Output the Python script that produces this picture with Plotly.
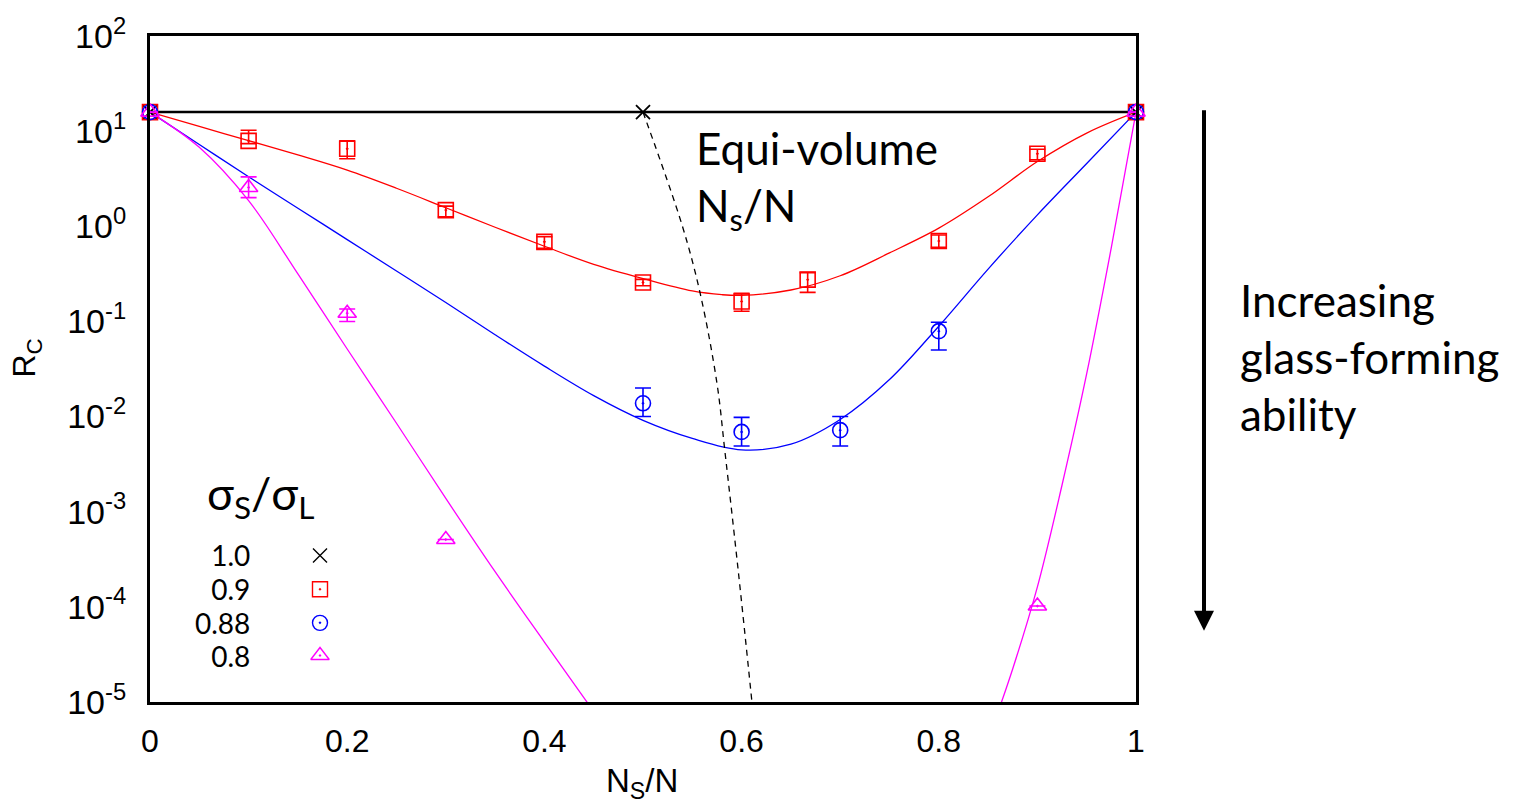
import plotly.graph_objects as go

# ---------------- data ----------------
X_TICKS = [0, 0.2, 0.4, 0.6, 0.8, 1]
X_TICK_LABELS = ["0", "0.2", "0.4", "0.6", "0.8", "1"]
Y_TICKS = [1e-5, 1e-4, 1e-3, 1e-2, 1e-1, 1e0, 1e1, 1e2]
Y_TICK_LABELS = ["10<sup>-5</sup>", "10<sup>-4</sup>", "10<sup>-3</sup>", "10<sup>-2</sup>",
                 "10<sup>-1</sup>", "10<sup>0</sup>", "10<sup>1</sup>", "10<sup>2</sup>"]

LEGEND_LABELS = ["1.0", "0.9", "0.88", "0.8"]

# sigma_S/sigma_L = 1.0
x_10 = [0, 0.5, 1.0]
rc_10 = [15.85, 15.85, 15.85]

# sigma_S/sigma_L = 0.9
x_09 = [0, 0.1, 0.2, 0.3, 0.4, 0.5, 0.6, 0.667, 0.8, 0.9, 1.0]
rc_09 = [15.85, 7.9, 6.52, 1.48, 0.686, 0.257, 0.162, 0.275, 0.70, 5.78, 15.85]
rc_09_up = [0, 2.3, 1.4, 0.15, 0.09, 0.02, 0.035, 0.051, 0.11, 0.67, 0]
rc_09_dn = [0, 0.5, 1.39, 0.22, 0.10, 0.02, 0.034, 0.073, 0.10, 0.78, 0]
fit_x_09 = [0, 0.05, 0.1, 0.15, 0.2, 0.25, 0.3, 0.35, 0.4, 0.45, 0.5, 0.55, 0.58, 0.6, 0.65,
            0.7, 0.75, 0.8, 0.85, 0.9, 0.95, 1.0]
fit_rc_09 = [15.85, 11.22, 7.94, 5.62, 3.89, 2.51, 1.567, 0.977, 0.617, 0.398, 0.282, 0.209,
             0.191, 0.188, 0.214, 0.302, 0.525, 0.955, 2.04, 4.79, 9.55, 15.85]

# sigma_S/sigma_L = 0.88
x_088 = [0, 0.5, 0.6, 0.7, 0.8, 1.0]
rc_088 = [15.85, 0.0138, 0.0069, 0.0072, 0.079, 15.85]
rc_088_up = [0, 0.0062, 0.0029, 0.0028, 0.019, 0]
rc_088_dn = [0, 0.0038, 0.0020, 0.0023, 0.029, 0]
fit_x_088 = [0, 0.05, 0.1, 0.15, 0.2, 0.25, 0.3, 0.35, 0.4, 0.45, 0.5, 0.55, 0.6, 0.65, 0.7,
             0.75, 0.8, 0.85, 0.9, 0.95, 1.0]
fit_rc_088 = [15.85, 7.24, 3.31, 1.55, 0.724, 0.339, 0.158, 0.0724, 0.0339, 0.0166, 0.00912,
              0.00589, 0.00447, 0.00513, 0.00933, 0.0245, 0.0891, 0.355, 1.318, 4.57, 15.85]

# sigma_S/sigma_L = 0.8
x_08 = [0, 0.1, 0.2, 0.3, 0.9, 1.0]
rc_08 = [15.85, 2.56, 0.122, 5.1e-4, 1.02e-4, 15.85]
rc_08_up = [0, 0.75, 0.013, 0, 0, 0]
rc_08_dn = [0, 0.56, 0.022, 0, 0, 0]
fit_x_08_left = [0, 0.05, 0.1, 0.15, 0.2, 0.25, 0.3, 0.35, 0.4, 0.45]
fit_rc_08_left = [15.85, 6.76, 1.86, 0.316, 0.0513, 8.51e-3, 1.38e-3, 2.34e-4, 4.27e-5, 7.94e-6]
fit_x_08_right = [0.85, 0.875, 0.9, 0.925, 0.95, 0.975, 1.0]
fit_rc_08_right = [3.98e-6, 2.24e-5, 1.62e-4, 1.91e-3, 0.0282, 0.60, 15.85]

# equi-volume line
eq_x = [0.5, 0.5396, 0.558, 0.575, 0.583, 0.597, 0.6105]
eq_rc = [15.85, 1.03, 0.197, 0.0224, 0.00437, 2.19e-4, 1.0e-5]

# ---------------- layout geometry ----------------
W, H = 1514, 806
L, R, T, B = 150, 1136, 29, 702   # plot area in pixels


def px(xp):
    return (xp - L) / (R - L)


def py(yp):
    return (B - yp) / (B - T)


RED, BLUE, MAG = "#ff0000", "#0000ff", "#ff00ff"
TICKFONT = "Liberation Sans, Arial, sans-serif"
TXTFONT = "Lato, Open Sans, sans-serif"

fig = go.Figure()

# fit curves
for fx, fy, col in [(fit_x_09, fit_rc_09, RED), (fit_x_088, fit_rc_088, BLUE),
                    (fit_x_08_left, fit_rc_08_left, MAG), (fit_x_08_right, fit_rc_08_right, MAG)]:
    fig.add_trace(go.Scatter(x=fx, y=fy, mode="lines",
                             line=dict(color=col, width=1.3, shape="spline", smoothing=1.0),
                             showlegend=False, hoverinfo="skip"))
fig.add_trace(go.Scatter(x=eq_x, y=eq_rc, mode="lines",
                         line=dict(color="black", width=1.3, dash="6px,5px", shape="spline"),
                         showlegend=False, hoverinfo="skip"))
# sigma = 1.0 line
fig.add_trace(go.Scatter(x=x_10, y=rc_10, mode="lines+markers", cliponaxis=False,
                         line=dict(color="black", width=2.5),
                         marker=dict(symbol="x-thin-open", size=14, line=dict(color="black", width=1.8)),
                         showlegend=False))


# data points with error bars
def add_points(x, y, up, dn, color, symbol, size):
    fig.add_trace(go.Scatter(
        x=x, y=y, mode="markers", cliponaxis=False, showlegend=False,
        marker=dict(symbol=symbol, size=size, color=color, line=dict(color=color, width=1.6)),
        error_y=dict(type="data", symmetric=False, array=up, arrayminus=dn,
                     color=color, thickness=1.6, width=8)))


add_points(x_09, rc_09, rc_09_up, rc_09_dn, RED, "square-open-dot", 15)
add_points(x_088, rc_088, rc_088_up, rc_088_dn, BLUE, "circle-open-dot", 15)
add_points(x_08, rc_08, rc_08_up, rc_08_dn, MAG, "triangle-up-open-dot", 16)

# legend key symbols on an invisible overlay axis (fractions of the plot area)
LEG_ROWS = [554, 588, 622, 655]
LEG_KEY_X = px(320)
leg_styles = [("x-thin-open", "black", 14), ("square-open-dot", RED, 15),
              ("circle-open-dot", BLUE, 15), ("triangle-up-open-dot", MAG, 16)]
for row, (sym, col, sz) in zip(LEG_ROWS, leg_styles):
    fig.add_trace(go.Scatter(x=[LEG_KEY_X], y=[py(row)], xaxis="x2", yaxis="y2", mode="markers",
                             cliponaxis=False, showlegend=False, hoverinfo="skip",
                             marker=dict(symbol=sym, size=sz, color=col, line=dict(color=col, width=1.4))))

annotations = []
# legend title and labels (one multi-line block, right aligned)
annotations.append(dict(xref="paper", yref="paper", x=px(205), y=py(494), xanchor="left", yanchor="middle",
                        text="σ<sub>S</sub>/σ<sub>L</sub>", showarrow=False,
                        font=dict(family=TXTFONT, size=45, color="black")))
legend_block = "<br>".join('<span style="font-size:28px">%s</span>' % s for s in LEGEND_LABELS)
annotations.append(dict(xref="paper", yref="paper", x=px(252), y=py(604),
                        xanchor="right", yanchor="middle", align="right",
                        text=legend_block, showarrow=False,
                        font=dict(family=TXTFONT, size=26, color="black")))
# text labels
annotations.append(dict(xref="paper", yref="paper", x=px(694), y=py(142), xanchor="left", yanchor="middle",
                        text="Equi-volume", showarrow=False, font=dict(family=TXTFONT, size=44, color="black")))
annotations.append(dict(xref="paper", yref="paper", x=px(694), y=py(203), xanchor="left", yanchor="middle",
                        text="N<sub>s</sub>/N", showarrow=False, font=dict(family=TXTFONT, size=44, color="black")))
annotations.append(dict(xref="paper", yref="paper", x=px(1238), y=py(353), xanchor="left", yanchor="middle",
                        align="left", text="Increasing<br>glass-forming<br>ability", showarrow=False,
                        font=dict(family=TXTFONT, size=44, color="black")))
# arrow
annotations.append(dict(xref="paper", yref="paper", x=px(1204), y=py(630), ax=0, ay=-522,
                        axref="pixel", ayref="pixel", showarrow=True, arrowhead=2, arrowsize=1,
                        arrowwidth=4, arrowcolor="black", text=""))
# axis titles
annotations.append(dict(xref="paper", yref="paper", x=px(642), y=py(784), xanchor="center", yanchor="middle",
                        text="N<sub>S</sub>/N", showarrow=False, font=dict(family=TICKFONT, size=33, color="black")))
annotations.append(dict(xref="paper", yref="paper", x=px(27), y=py(355), xanchor="center", yanchor="middle",
                        text="R<sub>C</sub>", textangle=-90, showarrow=False,
                        font=dict(family=TICKFONT, size=32, color="black")))

fig.update_layout(
    width=W, height=H,
    margin=dict(l=L, r=W - R, t=T, b=H - B, pad=0),
    paper_bgcolor="white", plot_bgcolor="white",
    showlegend=False,
    xaxis=dict(range=[0, 1], showgrid=False, zeroline=False, showline=True, linecolor="black",
               linewidth=3, mirror=True, ticks="", tickmode="array", tickvals=X_TICKS,
               ticktext=X_TICK_LABELS, ticklabelstandoff=9,
               tickfont=dict(family=TICKFONT, size=32, color="black")),
    yaxis=dict(type="log", range=[-5, 2], showgrid=False, zeroline=False, showline=True,
               linecolor="black", linewidth=3, mirror=True, ticks="", tickmode="array",
               tickvals=Y_TICKS, ticktext=Y_TICK_LABELS, ticklabelstandoff=14,
               tickfont=dict(family=TICKFONT, size=34, color="black")),
    xaxis2=dict(range=[0, 1], overlaying="x", visible=False, anchor="y2"),
    yaxis2=dict(range=[0, 1], overlaying="y", visible=False, anchor="x2"),
    annotations=annotations,
)

fig.write_html("out.html")
